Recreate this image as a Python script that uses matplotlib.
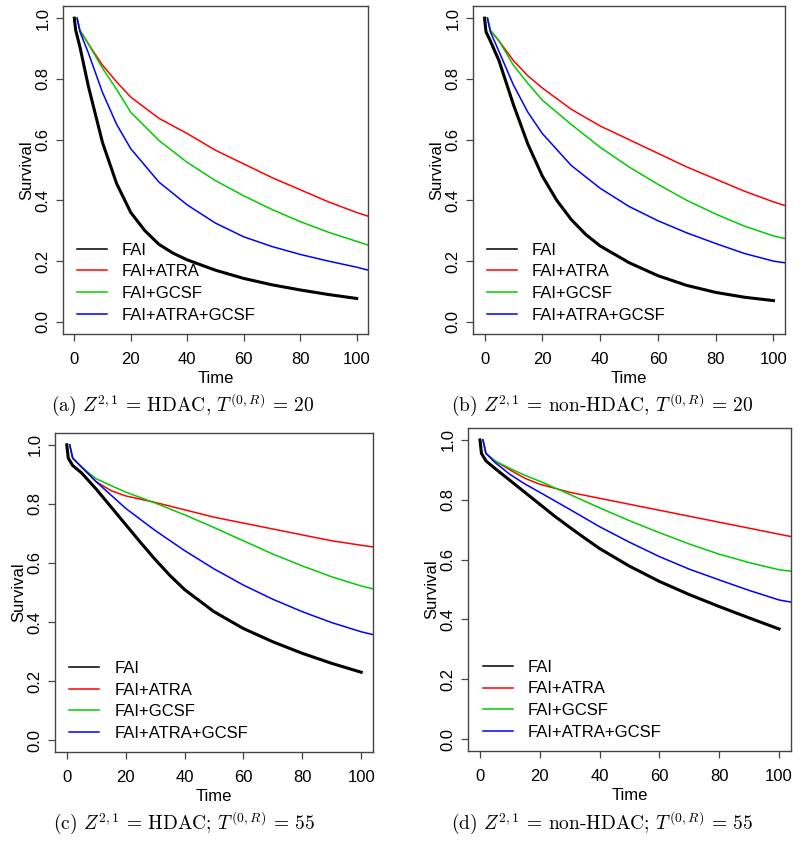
import matplotlib
matplotlib.use("Agg")
import matplotlib.pyplot as plt

plt.rcParams['font.family'] = ['Liberation Sans', 'DejaVu Sans']
plt.rcParams['mathtext.fontset'] = 'cm'

# time grids (FAI curve stops at 100, the others run past the axis edge)
t_fai = [0, 0.5, 2, 5, 10, 15, 20, 25, 30, 35, 40, 50, 60, 70, 80, 90, 100]
t_trt = [1, 2, 5, 10, 15, 20, 30, 40, 50, 60, 70, 80, 90, 100, 105]

# (a) HDAC, T=20
fai_a = [1.0, 0.96, 0.905, 0.775, 0.59, 0.455, 0.36, 0.30, 0.255, 0.226, 0.204, 0.17, 0.143, 0.122, 0.105, 0.09, 0.077]
atra_a = [1.0, 0.96, 0.915, 0.845, 0.79, 0.74, 0.67, 0.62, 0.565, 0.52, 0.475, 0.435, 0.395, 0.36, 0.345]
gcsf_a = [1.0, 0.96, 0.915, 0.835, 0.765, 0.69, 0.597, 0.525, 0.465, 0.415, 0.37, 0.33, 0.295, 0.265, 0.25]
both_a = [1.0, 0.955, 0.885, 0.755, 0.65, 0.57, 0.46, 0.385, 0.325, 0.28, 0.248, 0.222, 0.20, 0.18, 0.168]

# (b) non-HDAC, T=20
fai_b = [1.0, 0.955, 0.925, 0.86, 0.715, 0.585, 0.48, 0.40, 0.337, 0.288, 0.25, 0.195, 0.152, 0.12, 0.097, 0.081, 0.07]
atra_b = [1.0, 0.96, 0.925, 0.86, 0.81, 0.77, 0.70, 0.645, 0.60, 0.555, 0.51, 0.47, 0.43, 0.395, 0.38]
gcsf_b = [1.0, 0.96, 0.925, 0.845, 0.785, 0.73, 0.65, 0.575, 0.51, 0.453, 0.40, 0.355, 0.315, 0.283, 0.272]
both_b = [1.0, 0.955, 0.89, 0.78, 0.69, 0.62, 0.515, 0.44, 0.38, 0.333, 0.293, 0.258, 0.225, 0.20, 0.193]

# (c) HDAC, T=55
fai_c = [1.0, 0.955, 0.93, 0.905, 0.85, 0.79, 0.73, 0.67, 0.612, 0.558, 0.51, 0.435, 0.378, 0.333, 0.294, 0.26, 0.23]
atra_c = [1.0, 0.955, 0.925, 0.875, 0.845, 0.827, 0.805, 0.78, 0.755, 0.735, 0.715, 0.695, 0.675, 0.66, 0.653]
gcsf_c = [1.0, 0.955, 0.925, 0.885, 0.862, 0.84, 0.803, 0.763, 0.72, 0.675, 0.63, 0.59, 0.553, 0.522, 0.51]
both_c = [1.0, 0.955, 0.925, 0.875, 0.83, 0.785, 0.71, 0.642, 0.58, 0.525, 0.477, 0.435, 0.398, 0.367, 0.355]

# (d) non-HDAC, T=55
fai_d = [1.0, 0.955, 0.93, 0.905, 0.865, 0.825, 0.785, 0.745, 0.708, 0.672, 0.637, 0.578, 0.527, 0.483, 0.443, 0.405, 0.368]
atra_d = [1.0, 0.955, 0.93, 0.90, 0.872, 0.852, 0.825, 0.805, 0.785, 0.765, 0.745, 0.725, 0.705, 0.685, 0.675]
gcsf_d = [1.0, 0.955, 0.93, 0.905, 0.882, 0.862, 0.818, 0.773, 0.73, 0.69, 0.652, 0.618, 0.59, 0.566, 0.56]
both_d = [1.0, 0.955, 0.925, 0.885, 0.853, 0.825, 0.768, 0.71, 0.658, 0.61, 0.568, 0.532, 0.497, 0.465, 0.456]

labels = ['FAI', 'FAI+ATRA', 'FAI+GCSF', 'FAI+ATRA+GCSF']
colors = ['black', 'red', '#00cc00', 'blue']
x_ticks = [0, 20, 40, 60, 80, 100]
y_ticks = [0.0, 0.2, 0.4, 0.6, 0.8, 1.0]
captions = [
    r'(a) $Z^{2,1}$ = HDAC, $T^{(0,R)}$ = 20',
    r'(b) $Z^{2,1}$ = non-HDAC, $T^{(0,R)}$ = 20',
    r'(c) $Z^{2,1}$ = HDAC; $T^{(0,R)}$ = 55',
    r'(d) $Z^{2,1}$ = non-HDAC; $T^{(0,R)}$ = 55',
]
panels = [(fai_a, atra_a, gcsf_a, both_a), (fai_b, atra_b, gcsf_b, both_b),
          (fai_c, atra_c, gcsf_c, both_c), (fai_d, atra_d, gcsf_d, both_d)]

W, H = 800, 842
fig = plt.figure(figsize=(W / 100, H / 100), dpi=100)

# axes boxes in pixels: left, top, right, bottom
boxes = [(63, 6, 368, 334), (473, 6, 785, 334), (55, 433, 373, 752), (468, 428, 791, 751)]
cap_pos = [(183, 405), (602, 405), (184, 823), (602, 823)]

for i, (l, t, r, b) in enumerate(boxes):
    ax = fig.add_axes([l / W, 1 - b / H, (r - l) / W, (b - t) / H])
    fai, atra, gcsf, both = panels[i]
    ax.plot(t_fai, fai, color=colors[0], lw=2.2, label=labels[0])
    ax.plot(t_trt, atra, color=colors[1], lw=1.1, label=labels[1])
    ax.plot(t_trt, gcsf, color=colors[2], lw=1.1, label=labels[2])
    ax.plot(t_trt, both, color=colors[3], lw=1.1, label=labels[3])
    ax.set_xlim(-4, 104)
    ax.set_ylim(-0.04, 1.04)
    ax.set_xticks(x_ticks)
    ax.set_yticks(y_ticks)
    ax.set_yticklabels(['%.1f' % v for v in y_ticks], rotation=90, va='center')
    ax.tick_params(direction='out', length=5, width=0.9, colors='#444444',
                   labelcolor='black', labelsize=12)
    ax.tick_params(axis='x', pad=8)
    ax.tick_params(axis='y', pad=4)
    for sp in ax.spines.values():
        sp.set_color('#444444')
        sp.set_linewidth(1.0)
    ax.set_xlabel('Time', fontsize=12, labelpad=2.5)
    ax.set_ylabel('Survival', fontsize=12, labelpad=1)
    leg = ax.legend(loc='lower left', bbox_to_anchor=(0.045, 0.035), frameon=False,
                    fontsize=12, borderaxespad=0, borderpad=0, handlelength=1.8,
                    handletextpad=0.9, labelspacing=0.4)
    for h in leg.get_lines():
        h.set_linewidth(1.1)
    fig.text(cap_pos[i][0] / W, 1 - cap_pos[i][1] / H, captions[i],
             family=['cmr10', 'DejaVu Serif'], fontsize=14, ha='center', va='center')

fig.savefig('out.png', dpi=100)
